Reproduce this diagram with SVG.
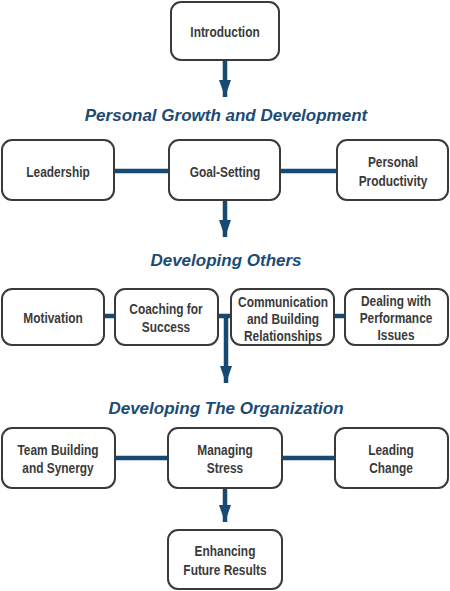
<svg xmlns="http://www.w3.org/2000/svg" width="450" height="591" viewBox="0 0 450 591">
<style>
.box{fill:#fff;stroke:#3a3a3a;stroke-width:2}
.t{font-family:"Liberation Sans",Arial,sans-serif;font-weight:bold;font-size:14px;fill:#3a3a3a;text-anchor:middle}
.h{font-family:"Liberation Sans",Arial,sans-serif;font-weight:bold;font-style:italic;font-size:17px;fill:#1c4b75;text-anchor:middle}
.c{stroke:#174a73;stroke-width:4.5;fill:none}
</style>
<defs>
<marker id="ah" viewBox="0 0 17 12" refX="17" refY="6" markerWidth="17" markerHeight="12" markerUnits="userSpaceOnUse" orient="auto">
<path d="M0,0 L17,6 L0,12 z" fill="#174a73"/>
</marker>
</defs>
<g id="connectors">
<line class="c" x1="225" y1="60" x2="225" y2="97" marker-end="url(#ah)"/>
<line class="c" x1="114" y1="171" x2="169" y2="171"/>
<line class="c" x1="280" y1="171" x2="337" y2="171"/>
<line class="c" x1="225" y1="200" x2="225" y2="237" marker-end="url(#ah)"/>
<line class="c" x1="104" y1="316" x2="115" y2="316"/>
<line class="c" x1="218" y1="316" x2="231" y2="316"/>
<line class="c" x1="334" y1="316" x2="345" y2="316"/>
<line class="c" x1="226" y1="316" x2="226" y2="383" marker-end="url(#ah)"/>
<line class="c" x1="115" y1="458" x2="168" y2="458"/>
<line class="c" x1="282" y1="458" x2="335" y2="458"/>
<line class="c" x1="225" y1="488" x2="225" y2="522" marker-end="url(#ah)"/>
</g>
<g id="headings">
<text class="h" x="226" y="121">Personal Growth and Development</text>
<text class="h" x="226" y="266">Developing Others</text>
<text class="h" x="226" y="414">Developing The Organization</text>
</g>
<g id="n-intro"><rect class="box" x="171" y="2" width="108" height="58" rx="10"/><text class="t" transform="translate(225 37) scale(0.85 1)">Introduction</text></g>
<g id="n-leadership"><rect class="box" x="2" y="140" width="112" height="60" rx="10"/><text class="t" transform="translate(58 177) scale(0.85 1)">Leadership</text></g>
<g id="n-goal"><rect class="box" x="169" y="140" width="111" height="60" rx="10"/><text class="t" transform="translate(225 177) scale(0.85 1)">Goal-Setting</text></g>
<g id="n-prod"><rect class="box" x="337" y="140" width="111" height="60" rx="10"/><text class="t" transform="translate(393 167) scale(0.85 1)">Personal</text><text class="t" transform="translate(393 186) scale(0.85 1)">Productivity</text></g>
<g id="n-motivation"><rect class="box" x="2" y="289" width="102" height="56" rx="10"/><text class="t" transform="translate(53 323) scale(0.85 1)">Motivation</text></g>
<g id="n-coaching"><rect class="box" x="115" y="289" width="103" height="56" rx="10"/><text class="t" transform="translate(166 314) scale(0.85 1)">Coaching for</text><text class="t" transform="translate(166 332) scale(0.85 1)">Success</text></g>
<g id="n-comm"><rect class="box" x="231" y="289" width="103" height="56" rx="10"/><text class="t" transform="translate(283 307) scale(0.85 1)">Communication</text><text class="t" transform="translate(283 324) scale(0.85 1)">and Building</text><text class="t" transform="translate(283 341) scale(0.85 1)">Relationships</text></g>
<g id="n-perf"><rect class="box" x="345" y="289" width="103" height="56" rx="10"/><text class="t" transform="translate(396 306) scale(0.85 1)">Dealing with</text><text class="t" transform="translate(396 323) scale(0.85 1)">Performance</text><text class="t" transform="translate(396 340) scale(0.85 1)">Issues</text></g>
<g id="n-team"><rect class="box" x="2" y="428" width="113" height="60" rx="10"/><text class="t" transform="translate(58 455) scale(0.85 1)">Team Building</text><text class="t" transform="translate(58 473) scale(0.85 1)">and Synergy</text></g>
<g id="n-stress"><rect class="box" x="168" y="428" width="114" height="60" rx="10"/><text class="t" transform="translate(225 455) scale(0.85 1)">Managing</text><text class="t" transform="translate(225 473) scale(0.85 1)">Stress</text></g>
<g id="n-change"><rect class="box" x="335" y="428" width="113" height="60" rx="10"/><text class="t" transform="translate(391 455) scale(0.85 1)">Leading</text><text class="t" transform="translate(391 473) scale(0.85 1)">Change</text></g>
<g id="n-future"><rect class="box" x="168" y="530" width="114" height="59" rx="10"/><text class="t" transform="translate(225 556) scale(0.85 1)">Enhancing</text><text class="t" transform="translate(225 575) scale(0.85 1)">Future Results</text></g>
</svg>
